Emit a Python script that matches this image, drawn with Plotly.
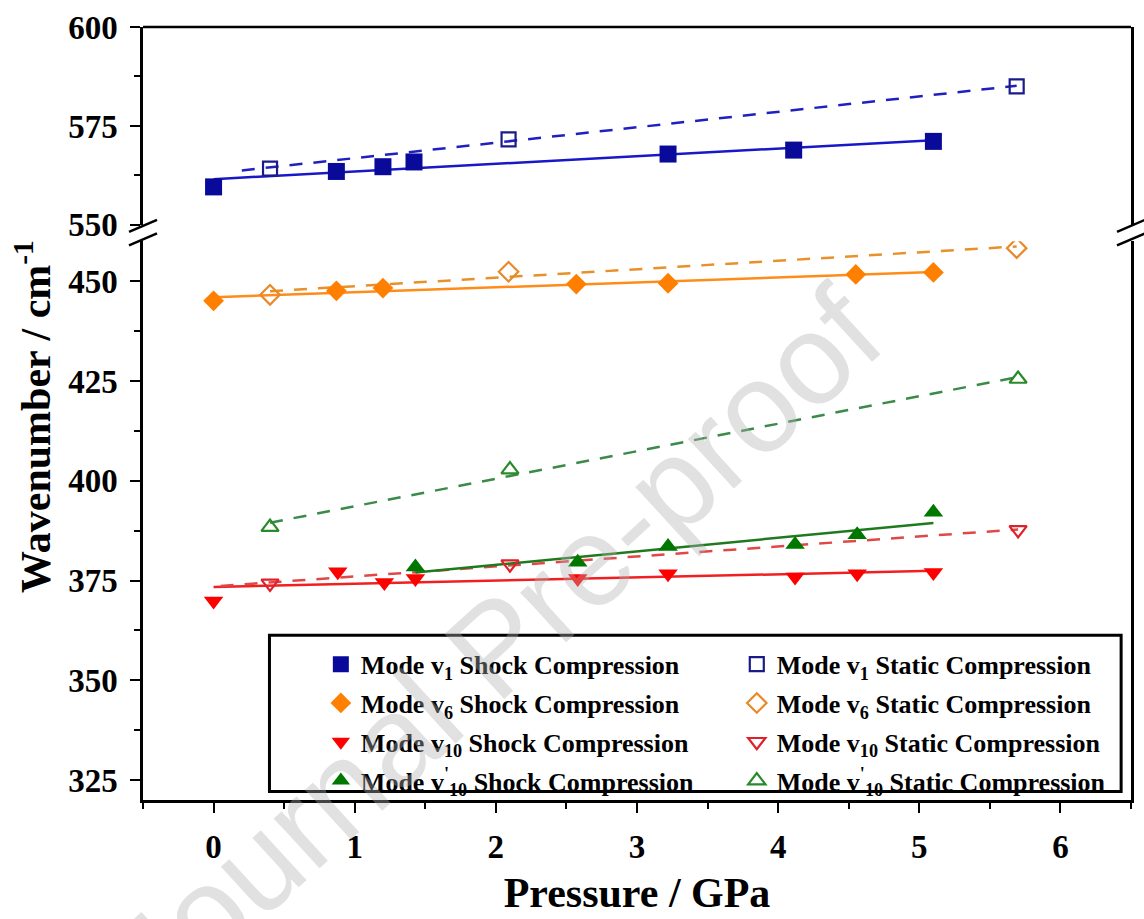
import numpy as np
import plotly.graph_objects as go

# ---------------- data ----------------
p_v1_shock = [0, 0.87, 1.20, 1.42, 3.22, 4.11, 5.10]
w_v1_shock = [559.6, 563.5, 564.7, 565.9, 567.9, 568.9, 571.1]
p_v1_static = [0.40, 2.09, 5.69]
w_v1_static = [564.2, 571.6, 585.0]

p_v6_shock = [0, 0.87, 1.20, 2.57, 3.22, 4.55, 5.10]
w_v6_shock = [445.1, 447.6, 448.3, 449.3, 449.5, 451.7, 452.2]
p_v6_static = [0.40, 2.09, 5.69]
w_v6_static = [446.6, 452.4, 458.3]

p_v10_shock = [0, 0.88, 1.21, 1.43, 2.58, 3.22, 4.12, 4.56, 5.10]
w_v10_shock = [369.9, 377.2, 374.5, 375.5, 375.5, 376.7, 375.9, 376.7, 377.0]
p_v10_static = [0.40, 2.10, 5.70]
w_v10_static = [374.3, 379.1, 387.7]

p_v10p_shock = [1.43, 2.58, 3.22, 4.12, 4.56, 5.10]
w_v10p_shock = [378.4, 379.6, 383.5, 384.0, 386.5, 392.1]
p_v10p_static = [0.40, 2.10, 5.70]
w_v10p_static = [388.4, 402.8, 425.5]

# start of the static (dashed) fit lines
static_fit_start = [0.2, 0.4, 0.05, 0.4]

names_shock = [
    "Mode v<sub>1</sub> Shock Compression",
    "Mode v<sub>6</sub> Shock Compression",
    "Mode v<sub>10</sub> Shock Compression",
    "Mode v<sup>'</sup><sub>10</sub> Shock Compression",
]
names_static = [
    "Mode v<sub>1</sub> Static Compression",
    "Mode v<sub>6</sub> Static Compression",
    "Mode v<sub>10</sub> Static Compression",
    "Mode v<sup>'</sup><sub>10</sub> Static Compression",
]

# ---------------- styles ----------------
FONT = "Liberation Serif"
marker_col = ["#0a0a9a", "#ff8000", "#ff0000", "#007800"]
open_col = ["#1a1a8a", "#e8892a", "#e0202a", "#2a8a2a"]
line_col = ["#1818c8", "#ff8c1a", "#f02020", "#1f7a1f"]
dash_col = ["#2020c0", "#e8902a", "#e04848", "#3a8a4a"]
sym_fill = ["square", "diamond", "triangle-down", "triangle-up"]
sym_open = ["square-open", "diamond-open", "triangle-down-open", "triangle-up-open"]
size_fill = [17, 16, 17, 17]
size_open = [14, 15, 15, 15]
yax = ["y2", "y", "y", "y"]

shock = [(p_v1_shock, w_v1_shock), (p_v6_shock, w_v6_shock),
         (p_v10_shock, w_v10_shock), (p_v10p_shock, w_v10p_shock)]
static = [(p_v1_static, w_v1_static), (p_v6_static, w_v6_static),
          (p_v10_static, w_v10_static), (p_v10p_static, w_v10p_static)]

fig = go.Figure()

# fit lines
for i in range(4):
    px, wy = shock[i]
    k, b = np.polyfit(px, wy, 1)
    xs = np.array([min(px), max(px)])
    fig.add_trace(go.Scatter(x=xs, y=k * xs + b, mode="lines", yaxis=yax[i],
                             line=dict(color=line_col[i], width=2.5),
                             showlegend=False, hoverinfo="skip"))
    px, wy = static[i]
    k, b = np.polyfit(px, wy, 1)
    xs = np.array([static_fit_start[i], max(px)])
    fig.add_trace(go.Scatter(x=xs, y=k * xs + b, mode="lines", yaxis=yax[i],
                             line=dict(color=dash_col[i], width=2.5, dash="13px,11px"),
                             showlegend=False, hoverinfo="skip"))

# markers
for i in range(4):
    px, wy = shock[i]
    fig.add_trace(go.Scatter(x=px, y=wy, mode="markers", yaxis=yax[i], name=names_shock[i],
                             legend="legend", legendgroup="s%d" % i,
                             marker=dict(symbol=sym_fill[i], size=size_fill[i],
                                         color=marker_col[i], line=dict(width=0))))
for i in range(4):
    px, wy = static[i]
    fig.add_trace(go.Scatter(x=px, y=wy, mode="markers", yaxis=yax[i], name=names_static[i],
                             legend="legend2", legendgroup="t%d" % i,
                             marker=dict(symbol=sym_open[i], size=size_open[i],
                                         color=open_col[i], line=dict(width=2.2, color=open_col[i]))))

tickfont = dict(family=FONT, size=33, color="black", weight="bold")
axis_common = dict(showline=True, linecolor="black", linewidth=2.5, showgrid=False,
                   zeroline=False, ticks="outside", ticklen=10, tickwidth=2.2,
                   tickcolor="black", tickfont=tickfont)

legend_font = dict(family=FONT, size=26, color="black", weight="bold")

fig.update_layout(
    width=1144, height=919,
    margin=dict(l=143, r=10, t=18, b=104),
    paper_bgcolor="white", plot_bgcolor="white",
    xaxis=dict(domain=[0, 1], range=[-0.5, 6.5], anchor="y", dtick=1, tick0=0,
               minor=dict(dtick=0.5, tick0=0, ticks="outside", ticklen=6, tickwidth=2.2,
                          tickcolor="black"),
               ticklabelstandoff=6,
               title=dict(text="Pressure / GPa", standoff=14,
                          font=dict(family=FONT, size=42, color="black", weight="bold")),
               **axis_common),
    yaxis=dict(domain=[0, 0.7227], range=[320, 460], anchor="x", dtick=25, tick0=325,
               mirror=True, ticklabelstandoff=6,
               minor=dict(dtick=12.5, tick0=325, ticks="outside", ticklen=6, tickwidth=2.2,
                          tickcolor="black"),
               **axis_common),
    yaxis2=dict(domain=[0.744, 1], range=[550, 600], anchor="x", dtick=25, tick0=550,
                mirror=True, ticklabelstandoff=6,
                minor=dict(dtick=12.5, tick0=550, ticks="outside", ticklen=6, tickwidth=2.2,
                           tickcolor="black"),
                **axis_common),
    legend=dict(x=0.180, y=0.206, xanchor="left", yanchor="top", orientation="v",
                traceorder="grouped", tracegroupgap=2, bgcolor="rgba(0,0,0,0)",
                borderwidth=0, font=legend_font),
    legend2=dict(x=0.601, y=0.206, xanchor="left", yanchor="top", orientation="v",
                 traceorder="grouped", tracegroupgap=2, bgcolor="rgba(0,0,0,0)",
                 borderwidth=0, font=legend_font),
    showlegend=True,
)

shapes = []
# top frame line
shapes.append(dict(type="line", xref="paper", yref="paper", x0=0, x1=1, y0=1, y1=1,
                   line=dict(color="black", width=2.5)))
# legend box
shapes.append(dict(type="rect", xref="paper", yref="paper", x0=0.128, x1=0.99,
                   y0=0.011, y1=0.213, line=dict(color="black", width=3),
                   fillcolor="rgba(0,0,0,0)"))
# axis break marks
for xa in (0, 1):
    for ya in (0.7428, 0.7252):
        shapes.append(dict(type="line", xref="paper", yref="paper",
                           xsizemode="pixel", ysizemode="pixel",
                           xanchor=xa, yanchor=ya, x0=-14, x1=14, y0=-6, y1=6,
                           line=dict(color="black", width=2.5)))
fig.update_layout(shapes=shapes)

fig.add_annotation(text="Wavenumber / cm<sup>-1</sup>", xref="paper", yref="paper",
                   x=-0.111, y=0.496, textangle=-90, showarrow=False,
                   xanchor="center", yanchor="middle",
                   font=dict(family=FONT, size=42, color="black", weight="bold"))
# journal watermark
fig.add_annotation(text="Journal Pre-proof", xref="paper", yref="paper",
                   x=0.357, y=0.198, textangle=-42.5, showarrow=False,
                   xanchor="center", yanchor="middle",
                   font=dict(family="Liberation Sans", size=128, color="rgba(175,175,175,0.38)"))

fig.write_html("out.html")
